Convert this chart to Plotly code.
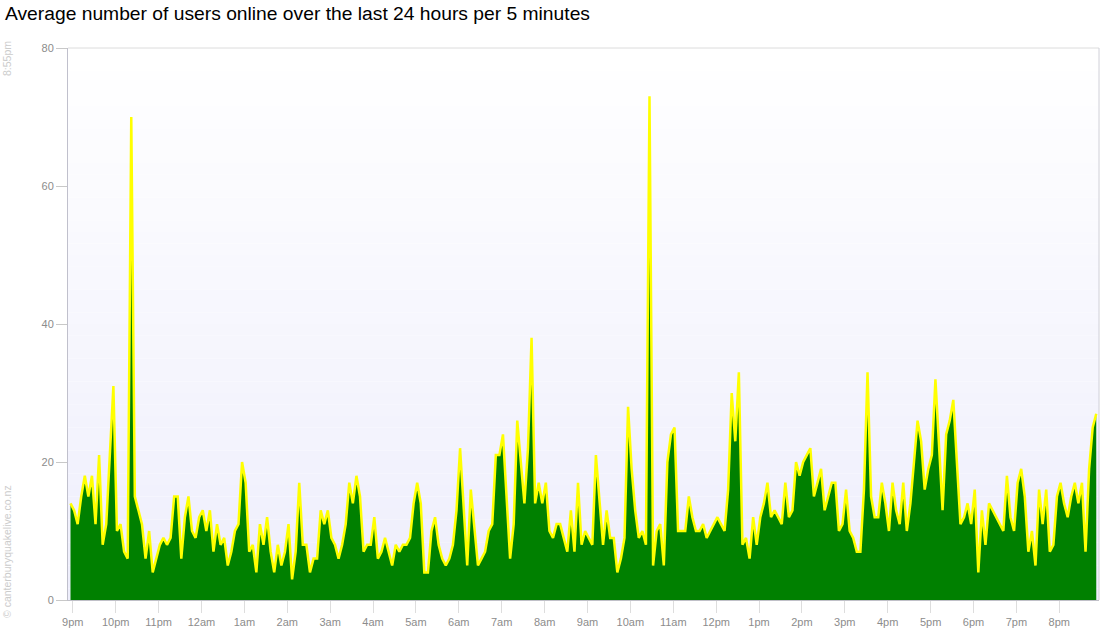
import plotly.graph_objects as go
from datetime import datetime, timedelta

# Average users online, one value per 5 minutes
users_9pm_12am = [14, 13, 11, 15, 18, 15, 18, 11, 21, 8, 11, 22, 31, 10, 11, 7, 6, 70, 15, 13,
                  11, 6, 10, 4, 6, 8, 9, 8, 9, 15, 15, 6, 12, 15, 10, 9, 12]
users_12am_3am = [13, 10, 13, 7, 11, 8, 9, 5, 7, 10, 11, 20, 17, 7, 8, 4, 11, 8, 12, 7,
                  4, 8, 5, 7, 11, 3, 7, 17, 8, 8, 4, 6, 6, 13, 11, 13]
users_3am_6am = [9, 8, 6, 8, 11, 17, 14, 18, 15, 7, 8, 8, 12, 6, 7, 9, 7, 5, 8, 7,
                 8, 8, 9, 14, 17, 14, 4, 4, 10, 12, 8, 6, 5, 6, 8, 13]
users_6am_9am = [22, 13, 5, 16, 10, 5, 6, 7, 10, 11, 21, 21, 24, 15, 6, 11, 26, 20, 14, 22,
                 38, 14, 17, 14, 17, 10, 9, 11, 11, 9, 7, 13, 7, 17, 8, 10]
users_9am_12pm = [9, 8, 21, 14, 8, 13, 9, 9, 4, 6, 9, 28, 19, 13, 9, 10, 8, 73, 5, 10,
                  11, 5, 20, 24, 25, 10, 10, 10, 15, 12, 10, 10, 11, 9, 10, 11, 12]
users_12pm_3pm = [11, 10, 16, 30, 23, 33, 8, 9, 6, 12, 8, 12, 14, 17, 12, 13, 12, 11, 17, 12,
                  13, 20, 18, 20, 21, 22, 15, 17, 19, 13, 15, 17, 17, 10, 11]
users_3pm_6pm = [16, 10, 9, 7, 7, 16, 33, 15, 12, 12, 17, 14, 10, 17, 13, 11, 17, 10, 14, 20,
                 26, 23, 16, 19, 21, 32, 22, 13, 24, 26, 29, 20, 11, 12, 14]
users_6pm_9pm = [11, 16, 4, 13, 8, 14, 13, 12, 11, 10, 18, 12, 10, 17, 19, 15, 7, 10, 5, 16,
                 11, 16, 7, 8, 15, 17, 14, 12, 15, 17, 14, 17, 7, 19, 25, 27]

values = (users_9pm_12am + users_12am_3am + users_3am_6am + users_6am_9am +
          users_9am_12pm + users_12pm_3pm + users_3pm_6pm + users_6pm_9pm)

tick_labels = ["9pm", "10pm", "11pm", "12am", "1am", "2am", "3am", "4am", "5am", "6am",
               "7am", "8am", "9am", "10am", "11am", "12pm", "1pm", "2pm", "3pm", "4pm",
               "5pm", "6pm", "7pm", "8pm"]
y_ticks = [0, 20, 40, 60, 80]

start = datetime(2012, 6, 1, 20, 56, 45)
times = [start + timedelta(minutes=5 * i) for i in range(len(values))]
nine_pm = datetime(2012, 6, 1, 21, 0)
tick_times = [nine_pm + timedelta(hours=h) for h in range(len(tick_labels))]
x_range = [datetime(2012, 6, 1, 20, 53, 15), datetime(2012, 6, 2, 20, 55, 35)]

fig = go.Figure()
fig.add_trace(go.Scatter(
    x=times, y=values, mode="lines", fill="tozeroy",
    fillcolor="#008000", line=dict(color="#ffff00", width=2.5),
    hoverinfo="x+y", showlegend=False))

# vertical gradient background (white at top -> pale lavender at bottom)
bands = 48
shapes = []
for k in range(bands):
    t = k / (bands - 1)  # 0 at bottom, 1 at top
    r = round(238 + (255 - 238) * t)
    g = round(238 + (255 - 238) * t)
    b = round(252 + (255 - 252) * t)
    shapes.append(dict(type="rect", xref="x domain", yref="y domain",
                       x0=0, x1=1, y0=k / bands, y1=(k + 1) / bands,
                       fillcolor=f"rgb({r},{g},{b})", line=dict(width=0), layer="below"))
# top and right borders
shapes.append(dict(type="line", xref="x domain", yref="y domain", x0=0, x1=1, y0=1, y1=1,
                   line=dict(color="#dcdcdc", width=1)))
shapes.append(dict(type="line", xref="x domain", yref="y domain", x0=1, x1=1, y0=0, y1=1,
                   line=dict(color="#d0d0d8", width=1)))

fig.update_layout(
    width=1100, height=640,
    margin=dict(l=68, r=1, t=48, b=40, autoexpand=False),
    paper_bgcolor="white", plot_bgcolor="white",
    font=dict(family="Liberation Sans, Arial, sans-serif", size=11, color="#8c8c8c"),
    title=dict(text="Average number of users online over the last 24 hours per 5 minutes",
               font=dict(family="Liberation Sans, Arial, sans-serif", size=19.25, color="#000000"),
               xref="container", yref="container", x=5 / 1100, xanchor="left",
               y=1 - 13 / 640, yanchor="middle"),
    shapes=shapes,
    annotations=[
        dict(text="8:55pm", xref="paper", yref="paper", x=(7 - 68) / 1031, y=(600 - 59) / 552,
             showarrow=False, textangle=-90, font=dict(size=10.5, color="#cccccc"),
             xanchor="center", yanchor="middle"),
        dict(text="© canterburyquakelive.co.nz", xref="paper", yref="paper",
             x=(7 - 68) / 1031, y=(600 - 552) / 552,
             showarrow=False, textangle=-90, font=dict(size=10.5, color="#cccccc"),
             xanchor="center", yanchor="middle"),
    ],
)
fig.update_xaxes(
    type="date", range=x_range, tickvals=tick_times, ticktext=tick_labels,
    showgrid=False, zeroline=False, showline=True, linecolor="#c0c0c8", linewidth=1,
    ticks="outside", ticklen=12, tickcolor="#dddddd", tickfont=dict(size=11, color="#8c8c8c"))
fig.update_yaxes(
    range=[0, 80], tickvals=y_ticks, showgrid=False, zeroline=False,
    showline=True, linecolor="#c0c0cc", linewidth=1,
    ticks="outside", ticklen=11, tickcolor="#c8c8c8", tickfont=dict(size=11, color="#8c8c8c"))

fig.write_html("out.html", config={"displayModeBar": False},
               post_script="document.body.style.margin='0';")
